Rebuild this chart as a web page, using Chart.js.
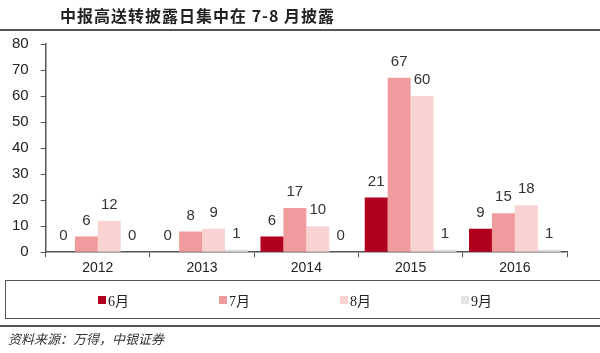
<!DOCTYPE html>
<html>
<head>
<meta charset="utf-8">
<script src="https://cdn.jsdelivr.net/npm/chart.js@4"></script>
<style>
  body { margin: 0; background: #fff; }
  #wrap { position: relative; width: 600px; height: 353px; overflow: hidden; }
  #chart { position: absolute; left: 0; top: 0; }
  .title { position: absolute; left: 60px; top: 3px; font: bold 16px "Noto Sans CJK SC", sans-serif; color: #222; letter-spacing: 1px; }
  .rule { position: absolute; left: 0; width: 600px; height: 2px; background: #555; }
  .legend { position: absolute; left: 5px; top: 280px; width: 587px; height: 37px; border: 1.5px solid #555; display: flex; align-items: center; padding-left: 92px; box-sizing: content-box; }
  .legend .item { width: 121px; display: flex; align-items: center; font: 14px "Liberation Serif", "Noto Sans CJK SC", serif; color: #222; }
  .legend .sw { width: 8px; height: 8px; margin-right: 2px; }
  .source { position: absolute; left: 8px; top: 329px; font: italic 13px "Noto Sans CJK SC", sans-serif; color: #333; }
</style>
</head>
<body>
<div id="wrap">
  <canvas id="chart" width="600" height="353"></canvas>
  <div class="title">中报高送转披露日集中在 7-8 月披露</div>
  <div class="rule" style="top:29px"></div>
  <div class="legend" id="legend"></div>
  <div class="rule" style="top:325px"></div>
  <div class="source">资料来源：万得，中银证券</div>
</div>
<script>
const years = ["2012", "2013", "2014", "2015", "2016"];
const months = ["6月", "7月", "8月", "9月"];
const jun = [0, 0, 6, 21, 9];
const jul = [6, 8, 17, 67, 15];
const aug = [12, 9, 10, 60, 18];
const sep = [0, 1, 0, 1, 1];
const colors = ["#b0001e", "#f09b9e", "#f9d2d2", "#e4e4e4"];

const seriesValues = [jun, jul, aug, sep];

// values printed above each bar
const valueLabels = {
  id: "valueLabels",
  afterDatasetsDraw(chart) {
    const ctx = chart.ctx;
    ctx.save();
    ctx.font = "15px 'Liberation Sans', Arial, sans-serif";
    ctx.fillStyle = "#333";
    ctx.textAlign = "center";
    ctx.textBaseline = "middle";
    chart.data.datasets.forEach((ds, i) => {
      chart.getDatasetMeta(i).data.forEach((bar, j) => {
        ctx.fillText(String(ds.data[j]), bar.x, bar.y - 16);
      });
    });
    ctx.restore();
  }
};

// html legend built from the series
const legendDiv = document.getElementById("legend");
months.forEach((m, i) => {
  const item = document.createElement("div");
  item.className = "item";
  item.innerHTML = `<span class="sw" style="background:${colors[i]}"></span>${m}`;
  legendDiv.appendChild(item);
});

new Chart(document.getElementById("chart"), {
  type: "bar",
  data: {
    labels: years,
    datasets: months.map((m, i) => ({
      label: m,
      data: seriesValues[i],
      backgroundColor: colors[i],
      categoryPercentage: 0.88,
      barPercentage: 1
    }))
  },
  options: {
    responsive: false,
    animation: false,
    layout: { padding: { left: 0, right: 33, top: 44, bottom: 73 } },
    plugins: {
      legend: { display: false },
      tooltip: { enabled: false }
    },
    scales: {
      x: {
        grid: { display: true, drawOnChartArea: false, offset: true, tickLength: 5, color: "#555" },
        border: { color: "#555", width: 1.5 },
        ticks: { color: "#222", padding: 3, font: { family: "'Liberation Sans', Arial, sans-serif", size: 14 } }
      },
      y: {
        min: 0,
        max: 80,
        grid: { display: true, drawOnChartArea: false, tickLength: 5, color: "#555" },
        border: { color: "#555", width: 1.5 },
        ticks: { stepSize: 10, color: "#222", padding: 12, font: { family: "'Liberation Sans', Arial, sans-serif", size: 15 } }
      }
    }
  },
  plugins: [valueLabels]
});
</script>
</body>
</html>
